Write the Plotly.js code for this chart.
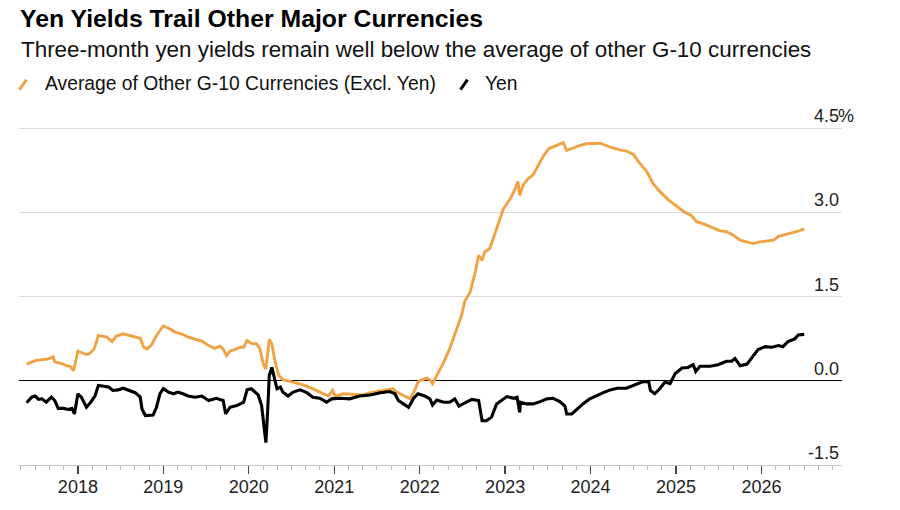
<!DOCTYPE html>
<html><head><meta charset="utf-8">
<script src="https://cdn.plot.ly/plotly-3.0.1.min.js"></script>
<style>html,body{margin:0;padding:0;background:#fff}#chart{width:900px;height:510px}</style>
</head><body><div id="chart"></div>
<script>
// Average of other G-10 currencies (excl. yen), 3-month yields, % — x in decimal years
const avgX = [
  2017.40,2017.50,2017.58,2017.65,2017.71,2017.73,2017.81,2017.87,2017.91,2017.95,
  2018.00,2018.04,2018.10,2018.14,2018.19,2018.24,2018.30,2018.34,2018.40,2018.45,
  2018.53,2018.61,2018.69,2018.73,2018.77,2018.81,2018.86,2018.92,2019.00,2019.06,
  2019.14,2019.21,2019.29,2019.37,2019.45,2019.53,2019.60,2019.66,2019.70,2019.74,
  2019.78,2019.84,2019.90,2019.94,2019.98,2020.03,2020.09,2020.13,2020.17,2020.20,
  2020.22,2020.24,2020.27,2020.31,2020.35,2020.40,2020.48,2020.56,2020.64,2020.72,
  2020.79,2020.87,2020.93,2020.98,2021.01,2021.11,2021.18,2021.26,2021.34,2021.42,
  2021.50,2021.57,2021.63,2021.69,2021.73,2021.79,2021.85,2021.89,2021.95,2021.98,
  2022.00,2022.08,2022.12,2022.15,2022.20,2022.28,2022.35,2022.43,2022.49,2022.53,
  2022.59,2022.65,2022.69,2022.73,2022.76,2022.82,2022.88,2022.94,2022.98,2023.06,
  2023.12,2023.15,2023.17,2023.21,2023.27,2023.33,2023.39,2023.45,2023.51,2023.56,
  2023.62,2023.68,2023.72,2023.80,2023.88,2023.95,2024.03,2024.11,2024.23,2024.34,
  2024.42,2024.50,2024.56,2024.66,2024.73,2024.81,2024.91,2025.01,2025.10,2025.18,
  2025.24,2025.32,2025.42,2025.51,2025.59,2025.67,2025.75,2025.83,2025.90,2025.98,
  2026.06,2026.14,2026.20,2026.28,2026.35,2026.43,2026.50
];
const avgV = [
  0.30,0.36,0.38,0.39,0.43,0.34,0.31,0.27,0.26,0.18,
  0.53,0.51,0.47,0.49,0.57,0.81,0.80,0.78,0.70,0.80,
  0.84,0.81,0.77,0.76,0.60,0.57,0.64,0.81,0.98,0.94,
  0.87,0.84,0.78,0.74,0.71,0.63,0.58,0.62,0.57,0.45,
  0.53,0.56,0.60,0.60,0.72,0.67,0.66,0.57,0.30,0.21,
  0.54,0.74,0.66,0.33,0.10,0.02,-0.01,-0.04,-0.07,-0.12,
  -0.17,-0.23,-0.27,-0.17,-0.27,-0.23,-0.24,-0.24,-0.25,-0.21,
  -0.19,-0.17,-0.16,-0.14,-0.20,-0.25,-0.29,-0.32,-0.14,-0.02,
  0.00,0.05,0.02,-0.05,0.10,0.33,0.57,0.93,1.17,1.43,
  1.58,1.94,2.24,2.15,2.30,2.36,2.63,2.89,3.07,3.25,
  3.43,3.56,3.31,3.49,3.61,3.68,3.84,4.02,4.14,4.17,
  4.20,4.25,4.11,4.16,4.20,4.23,4.23,4.24,4.17,4.12,
  4.10,4.04,3.91,3.73,3.52,3.38,3.23,3.12,3.01,2.95,
  2.84,2.80,2.74,2.68,2.66,2.60,2.51,2.48,2.45,2.48,
  2.49,2.51,2.58,2.61,2.64,2.67,2.71
];
// Yen 3-month yields, % — x in decimal years
const yenX = [
  2017.40,2017.46,2017.50,2017.54,2017.58,2017.63,2017.69,2017.73,2017.77,2017.83,
  2017.89,2017.93,2017.96,2018.00,2018.04,2018.10,2018.15,2018.20,2018.24,2018.30,
  2018.36,2018.41,2018.47,2018.53,2018.59,2018.67,2018.73,2018.75,2018.79,2018.84,
  2018.88,2018.92,2018.96,2019.00,2019.06,2019.12,2019.17,2019.23,2019.29,2019.37,
  2019.45,2019.53,2019.62,2019.70,2019.73,2019.78,2019.86,2019.94,2019.98,2020.03,
  2020.11,2020.15,2020.18,2020.20,2020.22,2020.24,2020.27,2020.29,2020.33,2020.37,
  2020.40,2020.46,2020.52,2020.60,2020.68,2020.75,2020.83,2020.91,2020.97,2021.07,
  2021.18,2021.30,2021.42,2021.54,2021.65,2021.71,2021.75,2021.81,2021.87,2021.93,
  2021.98,2022.06,2022.12,2022.15,2022.20,2022.28,2022.35,2022.41,2022.46,2022.53,
  2022.61,2022.69,2022.73,2022.78,2022.84,2022.90,2022.96,2023.02,2023.10,2023.14,
  2023.17,2023.18,2023.25,2023.33,2023.41,2023.49,2023.56,2023.64,2023.70,2023.72,
  2023.78,2023.84,2023.91,2023.99,2024.07,2024.15,2024.23,2024.31,2024.42,2024.50,
  2024.60,2024.68,2024.70,2024.75,2024.81,2024.87,2024.93,2024.99,2025.07,2025.14,
  2025.20,2025.23,2025.28,2025.40,2025.49,2025.59,2025.65,2025.69,2025.75,2025.83,
  2025.90,2025.96,2026.04,2026.12,2026.20,2026.25,2026.31,2026.39,2026.43,2026.50
];
const yenV = [
  -0.39,-0.29,-0.27,-0.33,-0.32,-0.38,-0.29,-0.35,-0.49,-0.49,
  -0.51,-0.49,-0.59,-0.23,-0.29,-0.47,-0.38,-0.27,-0.08,-0.10,
  -0.11,-0.17,-0.16,-0.13,-0.16,-0.21,-0.29,-0.50,-0.62,-0.62,
  -0.61,-0.47,-0.23,-0.14,-0.20,-0.23,-0.20,-0.23,-0.27,-0.29,
  -0.27,-0.35,-0.31,-0.35,-0.59,-0.47,-0.44,-0.38,-0.16,-0.14,
  -0.25,-0.44,-0.80,-1.10,-0.56,0.10,0.24,0.13,-0.14,-0.11,
  -0.20,-0.27,-0.20,-0.16,-0.21,-0.29,-0.31,-0.38,-0.32,-0.31,
  -0.32,-0.27,-0.25,-0.21,-0.19,-0.23,-0.35,-0.41,-0.47,-0.31,
  -0.23,-0.27,-0.32,-0.43,-0.34,-0.38,-0.38,-0.32,-0.45,-0.39,
  -0.33,-0.35,-0.71,-0.71,-0.65,-0.41,-0.35,-0.28,-0.31,-0.29,
  -0.56,-0.38,-0.41,-0.41,-0.37,-0.32,-0.31,-0.37,-0.45,-0.59,
  -0.59,-0.50,-0.41,-0.32,-0.26,-0.21,-0.16,-0.13,-0.13,-0.08,
  -0.02,-0.01,-0.17,-0.23,-0.14,-0.02,-0.05,0.13,0.23,0.24,
  0.29,0.17,0.26,0.26,0.29,0.35,0.35,0.40,0.27,0.30,
  0.45,0.56,0.61,0.60,0.63,0.61,0.70,0.75,0.82,0.83
];
const yearTicks = [2018,2019,2020,2021,2022,2023,2024,2025,2026];
const yTickVals = [-1.5,0,1.5,3,4.5];
const yTickText = ['-1.5','0.0','1.5','3.0','4.5'];
const seriesNames = ['Average of Other G-10 Currencies (Excl. Yen)','Yen'];

const FONT = '"Liberation Sans", Arial, Helvetica, sans-serif';
const ORANGE = '#f0a244';
const BLACK = '#000000';

const traces = [
  {x: avgX, y: avgV, type:'scatter', mode:'lines', name: seriesNames[0],
   line:{color: ORANGE, width: 2.9}, hoverinfo:'skip'},
  {x: yenX, y: yenV, type:'scatter', mode:'lines', name: seriesNames[1],
   line:{color: BLACK, width: 3.1}, hoverinfo:'skip'}
];

const W = 900, H = 510, L = 19, R = 58, B = 45;
const yRange = [-1.5, 4.6];
const pxPerUnit = 56;
const T = H - B - (yRange[1] - yRange[0]) * pxPerUnit;
const pw = W - L - R, ph = H - T - B;
const px = v => (v - L) / pw;          // page pixel -> paper x
const py = v => (H - B - v) / ph;      // page pixel -> paper y

const slash = (cx, color) => ({
  type: 'line', xref: 'paper', yref: 'paper',
  x0: px(cx - 3.5), y0: py(90), x1: px(cx + 3.5), y1: py(80),
  line: {color: color, width: 3}
});

const layout = {
  width: W, height: H,
  margin: {l: L, r: R, t: T, b: B, pad: 0},
  paper_bgcolor: '#ffffff', plot_bgcolor: '#ffffff',
  showlegend: false,
  font: {family: FONT, color: '#222'},
  title: {text: '<b>Yen Yields Trail Other Major Currencies</b>',
          xref: 'container', x: 20/W, xanchor: 'left',
          yref: 'container', y: 1 - 18/H, yanchor: 'middle',
          font: {family: FONT, size: 24.8, color: '#000'}},
  xaxis: {
    range: [2017.311, 2026.942], tickmode: 'array', tickvals: yearTicks,
    ticktext: yearTicks.map(String), ticks: 'outside', ticklen: 8, tickwidth: 1.3,
    tickcolor: '#444', showline: true, linecolor: '#c8c8c8', linewidth: 1,
    showgrid: false, zeroline: false, tickfont: {size: 18, color: '#222'},
    ticklabelstandoff: -3,
    minor: {tickmode: 'linear', tick0: 2018, dtick: 1/6, ticks: 'outside',
            ticklen: 4, tickcolor: '#b8b8b8', tickwidth: 1, showgrid: false},
    fixedrange: true
  },
  yaxis: {
    side: 'right', range: yRange, tickmode: 'array', tickvals: yTickVals,
    ticktext: yTickText, ticklabelposition: 'inside top', ticklabeloverflow: 'allow',
    ticks: '', showgrid: true, gridcolor: '#dcdcdc', gridwidth: 1,
    zeroline: true, zerolinecolor: '#000', zerolinewidth: 1, showline: false,
    tickfont: {size: 18, color: '#222'}, fixedrange: true
  },
  shapes: [slash(23, ORANGE), slash(464, BLACK)],
  annotations: [
    {text: 'Three-month yen yields remain well below the average of other G-10 currencies',
     xref: 'paper', yref: 'paper', x: px(19), y: py(50), xanchor: 'left', yanchor: 'middle',
     showarrow: false, font: {family: FONT, size: 22.4, color: '#111'}},
    {text: seriesNames[0], xref: 'paper', yref: 'paper', x: px(43), y: py(84),
     xanchor: 'left', yanchor: 'middle', showarrow: false,
     font: {family: FONT, size: 19.3, color: '#111'}},
    {text: seriesNames[1], xref: 'paper', yref: 'paper', x: px(483), y: py(84),
     xanchor: 'left', yanchor: 'middle', showarrow: false,
     font: {family: FONT, size: 19.3, color: '#111'}},
    {text: '%', xref: 'paper', yref: 'paper', x: px(836), y: py(116),
     xanchor: 'left', yanchor: 'middle', showarrow: false,
     font: {family: FONT, size: 18, color: '#222'}}
  ]
};

Plotly.newPlot('chart', traces, layout, {displayModeBar: false, staticPlot: true});
</script>
</body></html>
